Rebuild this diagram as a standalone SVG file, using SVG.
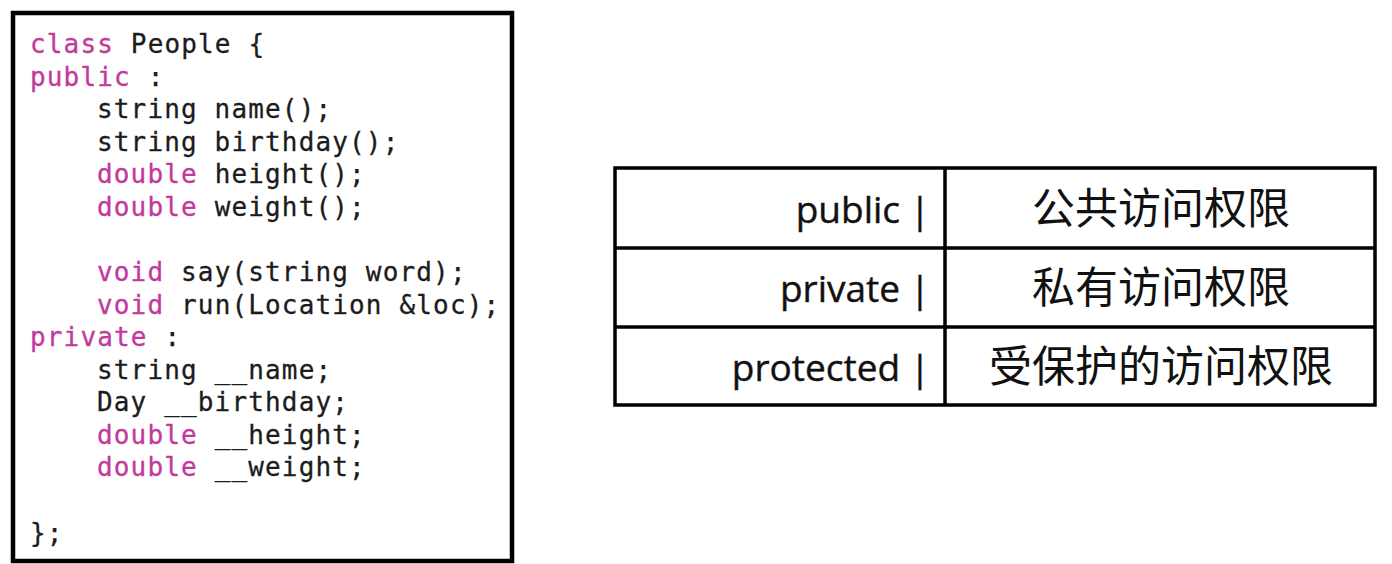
<svg xmlns="http://www.w3.org/2000/svg" width="1392" height="564" viewBox="0 0 1392 564">
<style>
.code{font-family:"DejaVu Sans Mono","Liberation Mono",monospace;font-size:26px;letter-spacing:1.15px;fill:#1c1c1c;stroke:#1c1c1c;stroke-width:0.3}
.kw{fill:#c2399b;stroke:#c2399b}
.lat{font-family:"Open Sans","Noto Sans",sans-serif;font-size:37px;fill:#111;text-anchor:end;stroke:#111;stroke-width:0.4}
.cjk{font-family:"Noto Sans CJK SC",sans-serif;font-size:43px;fill:#111;text-anchor:middle}
.box{fill:#fff;stroke:#000}
</style>
<rect width="1392" height="564" fill="#fff"/>
<g id="code-box">
<rect class="box" x="13" y="13" width="499" height="548" stroke-width="4.5"/>
<text class="code" xml:space="preserve">
<tspan x="30" y="53"><tspan class="kw">class</tspan> People {</tspan>
<tspan x="30" y="85.6"><tspan class="kw">public</tspan> :</tspan>
<tspan x="97" y="118.1">string name();</tspan>
<tspan x="97" y="150.7">string birthday();</tspan>
<tspan x="97" y="183.3"><tspan class="kw">double</tspan> height();</tspan>
<tspan x="97" y="215.9"><tspan class="kw">double</tspan> weight();</tspan>
<tspan x="97" y="281"><tspan class="kw">void</tspan> say(string word);</tspan>
<tspan x="97" y="313.6"><tspan class="kw">void</tspan> run(Location &amp;loc);</tspan>
<tspan x="30" y="346.1"><tspan class="kw">private</tspan> :</tspan>
<tspan x="97" y="378.7">string __name;</tspan>
<tspan x="97" y="411.3">Day __birthday;</tspan>
<tspan x="97" y="443.8"><tspan class="kw">double</tspan> __height;</tspan>
<tspan x="97" y="476.4"><tspan class="kw">double</tspan> __weight;</tspan>
<tspan x="30" y="541.6">};</tspan>
</text>
</g>
<g id="table">
<rect class="box" x="615" y="168" width="760" height="237" stroke-width="3.5"/>
<g fill="none" stroke="#000" stroke-width="3.5">
<line x1="945" y1="168" x2="945" y2="405"/>
<line x1="615" y1="248" x2="1375" y2="248"/>
<line x1="615" y1="327" x2="1375" y2="327"/>
</g>
<g id="row-public">
<text class="lat" x="930" y="223">public |</text>
<text class="cjk" x="1161" y="224">公共访问权限</text>
</g>
<g id="row-private">
<text class="lat" x="930" y="302">private |</text>
<text class="cjk" x="1161" y="303">私有访问权限</text>
</g>
<g id="row-protected">
<text class="lat" x="930" y="381">protected |</text>
<text class="cjk" x="1161" y="382">受保护的访问权限</text>
</g>
</g>
</svg>
